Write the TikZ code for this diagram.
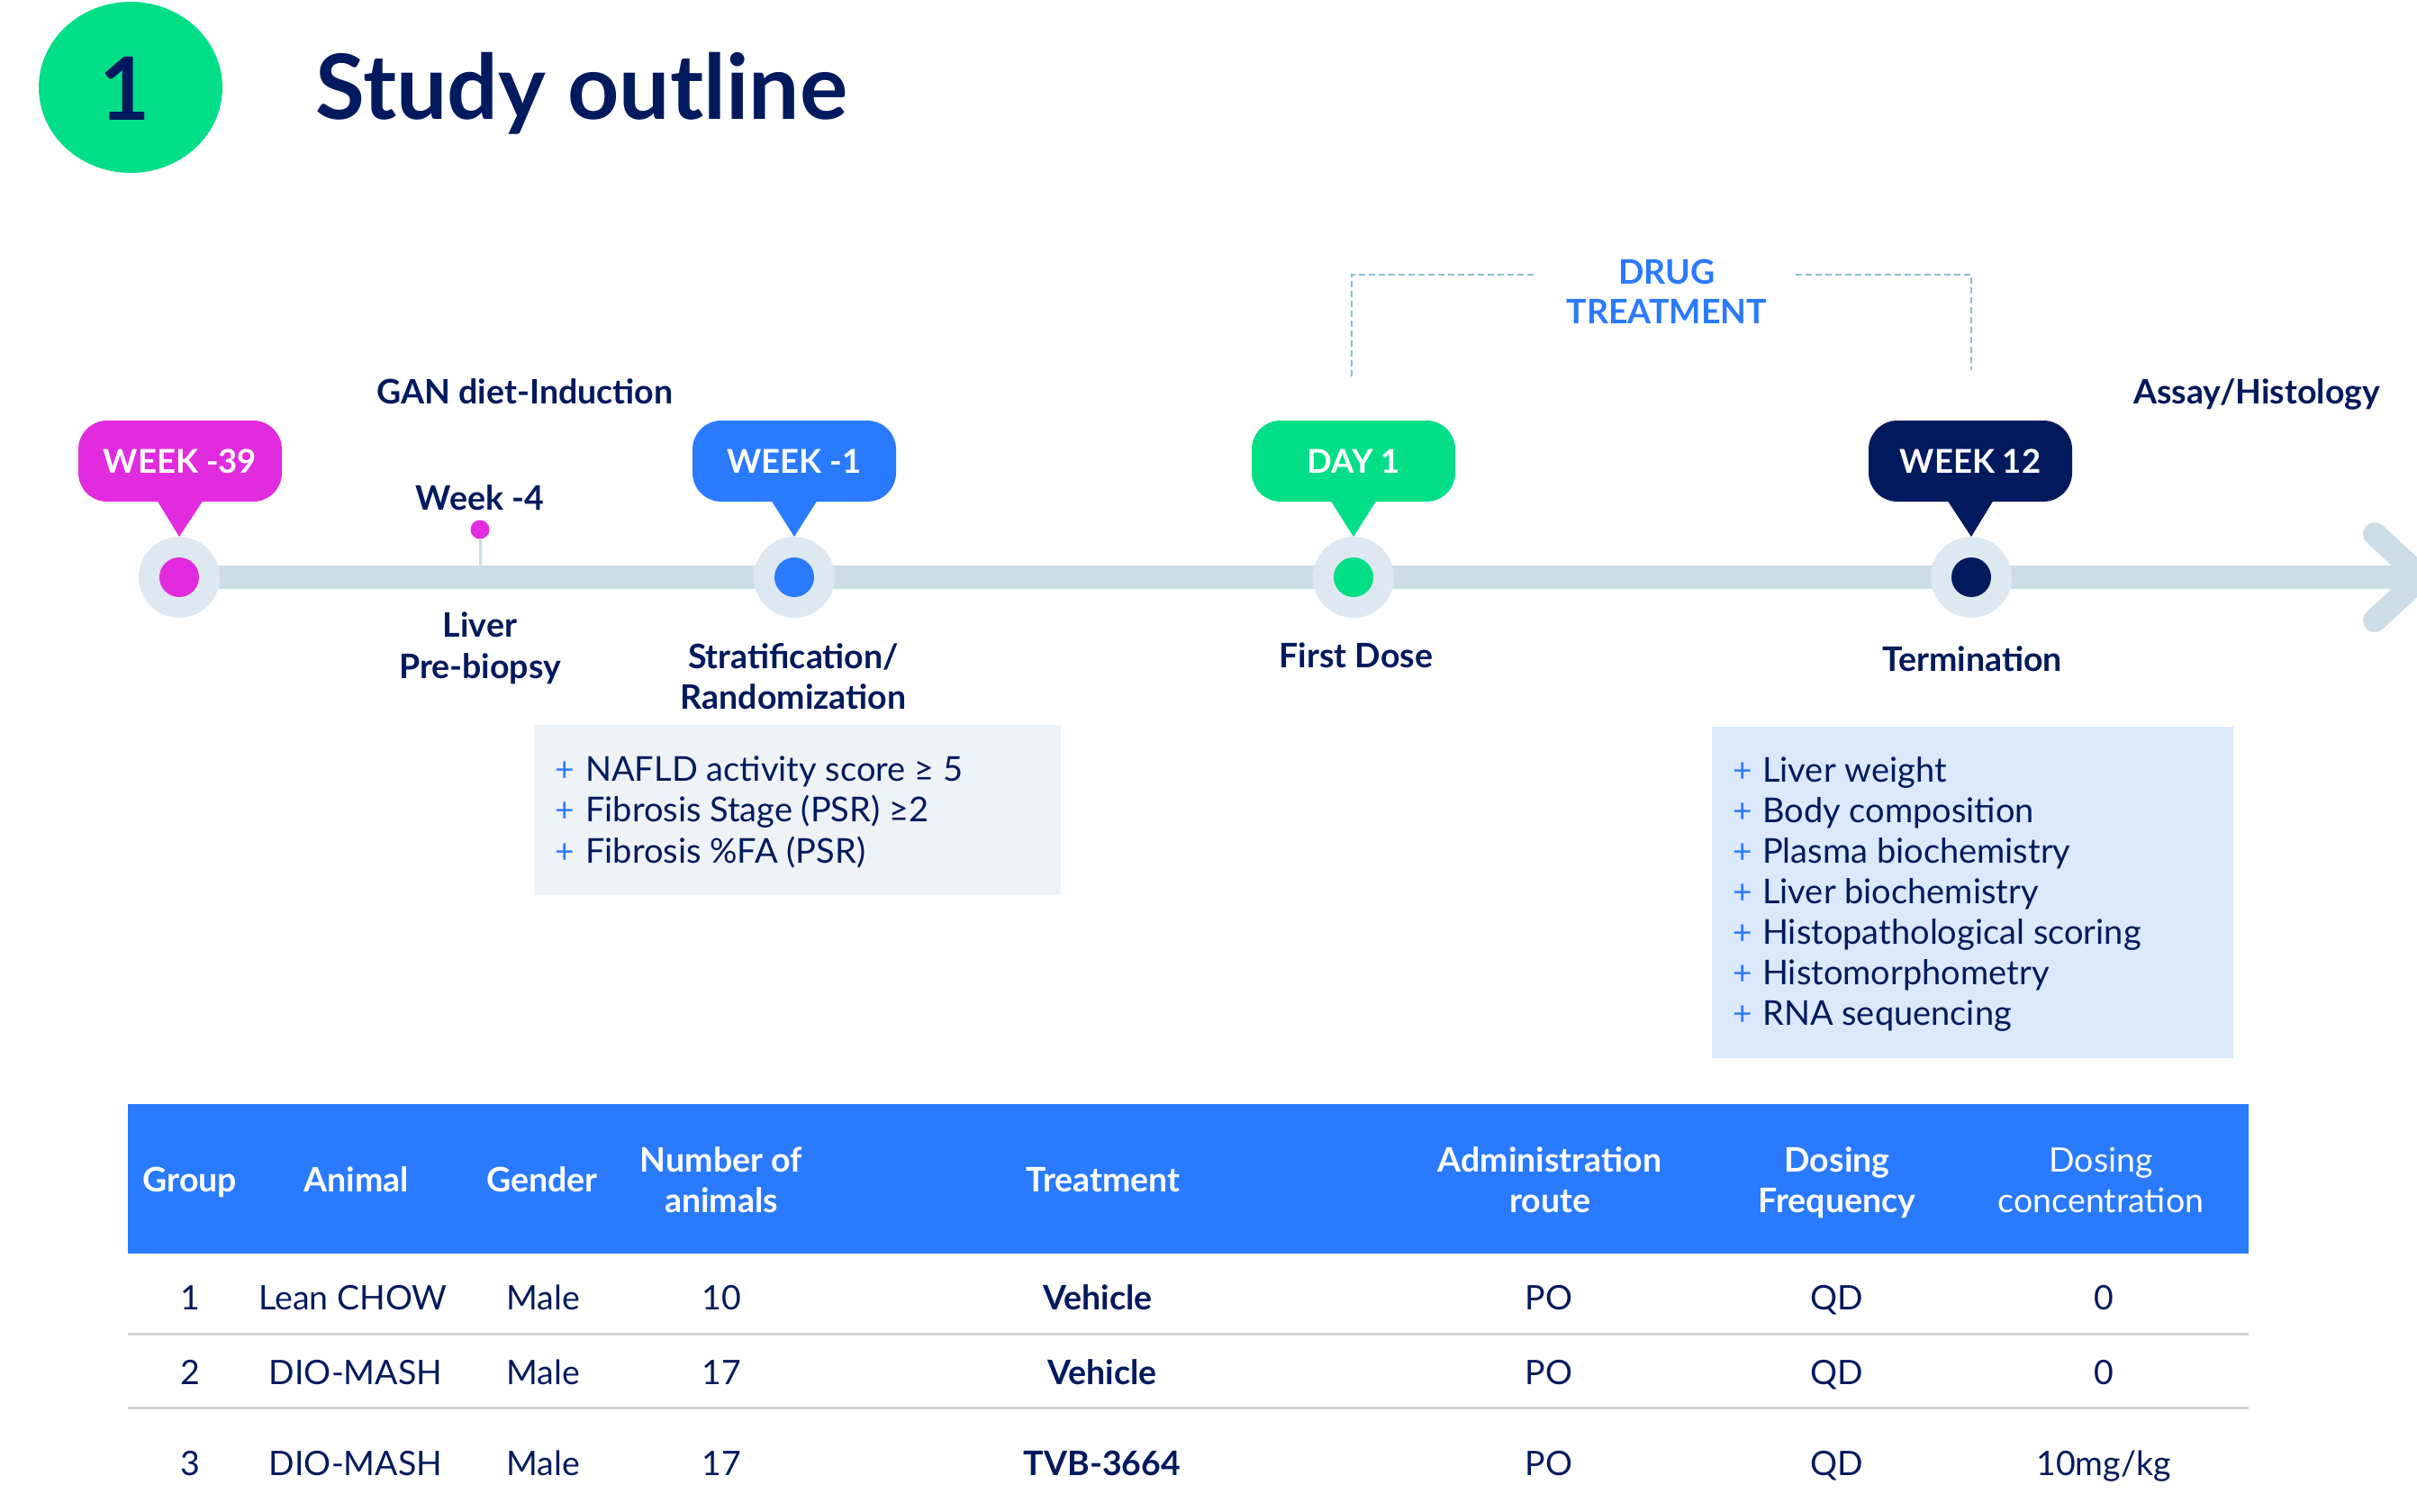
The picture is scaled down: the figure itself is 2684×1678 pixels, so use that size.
\documentclass[tikz,border=0pt]{standalone}
\usepackage{fontspec}
\setmainfont{Lato}
\usetikzlibrary{calc,shapes.geometric}
\definecolor{navy}{HTML}{011A5E}
\definecolor{mgreen}{HTML}{03DF87}
\definecolor{mmag}{HTML}{E22BDF}
\definecolor{mblue}{HTML}{2A7AFE}
\definecolor{barc}{HTML}{CDDDE7}
\definecolor{ringc}{HTML}{DEE8F0}
\definecolor{boxa}{HTML}{EEF3F8}
\definecolor{boxb}{HTML}{DCE8FC}
\definecolor{dashc}{HTML}{8CBFC9}
\definecolor{rulec}{HTML}{D2D2D2}
\begin{document}
\begin{tikzpicture}[x=1pt,y=-1pt,
  lbl/.style={font=\fontsize{37.5}{44}\selectfont\bfseries, text=navy, inner sep=0, anchor=base},
  ring/.style={circle, fill=ringc, minimum size=90, inner sep=0, outer sep=0},
  dot/.style={circle, minimum size=44, inner sep=0, outer sep=0},
  bubble/.style={rounded corners=32, minimum width=226, minimum height=90, inner sep=0, outer sep=0, text=white, font=\fontsize{36.5}{42}\selectfont\bfseries},
  plus/.style={font=\fontsize{37}{44}\selectfont, text=mblue, inner sep=0, anchor=base},
  item/.style={font=\fontsize{38}{44}\selectfont, text=navy, inner sep=0, anchor=base west},
  hd/.style={font=\fontsize{37.5}{44}\selectfont\bfseries, text=white, inner sep=0, anchor=base},
  hdr/.style={font=\fontsize{37.5}{44}\selectfont, text=white, inner sep=0, anchor=base},
  cell/.style={font=\fontsize{37.5}{44}\selectfont, text=navy, inner sep=0, anchor=base},
  cellb/.style={font=\fontsize{37.5}{44}\selectfont\bfseries, text=navy, inner sep=0, anchor=base},
  dashline/.style={dashc, line width=2.5, dash pattern=on 7pt off 4pt}
]
\useasboundingbox (0,0) rectangle (2684,1678);

% badge and title
\node[ellipse, fill=mgreen, minimum width=204, minimum height=190, inner sep=0] (badge) at (145,97) {};
\node[font=\fontsize{97}{110}\selectfont\bfseries, text=navy, inner sep=0] (badgenum) at (139,98) {1};
\node[anchor=base west, inner sep=0, font=\fontsize{100}{120}\selectfont\bfseries, text=navy] (title) at (350,132) {Study outline};

% timeline bar
\coordinate (c1) at (199,641);
\coordinate (c2) at (882,641);
\coordinate (c3) at (1503,641);
\coordinate (c4) at (2189,641);
\coordinate (tipc) at (2689,641);
\coordinate (armtop) at (2637,593);
\coordinate (armbot) at (2637,689);
\draw[barc, line width=26] (c1) -- (tipc);
\draw[barc, line width=26, line cap=round, line join=miter] (armtop) -- (tipc) -- (armbot);

% week -4 marker
\coordinate (w4base) at (533,630);
\node[circle, fill=mmag, minimum size=21, inner sep=0] (w4dot) at (533,588) {};
\draw[barc, line width=3] (w4dot) -- (w4base);

% rings
\node[ring] (ring1) at (c1) {};
\node[ring] (ring2) at (c2) {};
\node[ring] (ring3) at (c3) {};
\node[ring] (ring4) at (c4) {};
\node[dot, fill=mmag] (dot1) at (c1) {};
\node[dot, fill=mblue] (dot2) at (c2) {};
\node[dot, fill=mgreen] (dot3) at (c3) {};
\node[dot, fill=navy] (dot4) at (c4) {};

% bubbles
\node[bubble, fill=mmag] (b1) at (200,512) {WEEK -39};
\node[bubble, fill=mblue] (b2) at (882,512) {WEEK -1};
\node[bubble, fill=mgreen] (b3) at (1503,512) {DAY 1};
\node[bubble, fill=navy] (b4) at (2188,512) {WEEK 12};
\fill[mmag] ($(b1.south)+(-26,-2)$) -- (ring1.north) -- ($(b1.south)+(26,-2)$) -- cycle;
\fill[mblue] ($(b2.south)+(-26,-2)$) -- (ring2.north) -- ($(b2.south)+(26,-2)$) -- cycle;
\fill[mgreen] ($(b3.south)+(-26,-2)$) -- (ring3.north) -- ($(b3.south)+(26,-2)$) -- cycle;
\fill[navy] ($(b4.south)+(-26,-2)$) -- (ring4.north) -- ($(b4.south)+(26,-2)$) -- cycle;

% labels
\node[lbl] (gan) at (583,448) {GAN diet-Induction};
\node[lbl] (assay) at (2506,448) {Assay/Histology};
\node[lbl] (wk4) at (533,566) {Week -4};
\node[lbl] (liver1) at (533,707) {Liver};
\node[lbl] (liver2) at (533,753) {Pre-biopsy};
\node[lbl] (strat1) at (881,742) {Stratification/};
\node[lbl] (strat2) at (881,787) {Randomization};
\node[lbl] (first) at (1506,741) {First Dose};
\node[lbl] (term) at (2190,745) {Termination};
\node[lbl, text=mblue] (drug1) at (1851,315) {DRUG};
\node[lbl, text=mblue] (drug2) at (1851,359) {TREATMENT};

% drug treatment bracket
\coordinate (bl) at (1501,418);
\coordinate (blt) at (1707,305);
\coordinate (brt) at (1994,305);
\coordinate (br) at (2189,411);
\draw[dashline] (bl) |- (blt);
\draw[dashline] (brt) -| (br);

% box 1
\node[fill=boxa, minimum width=585, minimum height=189, inner sep=0, anchor=north west] (boxone) at (593,805) {};
\node[plus] (pa1) at (627,867) {+};
\node[item] (ia1) at (650,867) {NAFLD activity score ≥ 5};
\node[plus] (pa2) at (627,912) {+};
\node[item] (ia2) at (650,912) {Fibrosis Stage (PSR) ≥2};
\node[plus] (pa3) at (627,958) {+};
\node[item] (ia3) at (650,958) {Fibrosis \%FA (PSR)};

% box 2
\node[fill=boxb, minimum width=579, minimum height=368, inner sep=0, anchor=north west] (boxtwo) at (1901,807) {};
\foreach \t [count=\i] in {Liver weight, Body composition, Plasma biochemistry, Liver biochemistry, Histopathological scoring, Histomorphometry, RNA sequencing}{
  \node[plus] (pb\i) at (1935,{823+45*\i}) {+};
  \node[item] (ib\i) at (1957,{823+45*\i}) {\t};
}

% table header
\node[fill=mblue, minimum width=2355, minimum height=166, inner sep=0, anchor=north west] (hdrband) at (142,1226) {};
\node[hd] (h1) at (211,1323) {Group};
\node[hd] (h2) at (396,1323) {Animal};
\node[hd] (h3) at (602,1323) {Gender};
\node[hd] (h4a) at (801,1301) {Number of};
\node[hd] (h4b) at (801,1346) {animals};
\node[hd] (h5) at (1225,1323) {Treatment};
\node[hd] (h6a) at (1721,1301) {Administration};
\node[hd] (h6b) at (1721,1346) {route};
\node[hd] (h7a) at (2040,1301) {Dosing};
\node[hd] (h7b) at (2040,1346) {Frequency};
\node[hdr] (h8a) at (2333,1301) {Dosing};
\node[hdr] (h8b) at (2333,1346) {concentration};

% rules
\draw[rulec, line width=3] (142,1481) -- (2497,1481);
\draw[rulec, line width=3] (142,1563) -- (2497,1563);

% row 1
\node[cell] (r1c1) at (211,1454) {1};
\node[cell] (r1c2) at (392,1454) {Lean CHOW};
\node[cell] (r1c3) at (603,1454) {Male};
\node[cell] (r1c4) at (801,1454) {10};
\node[cellb] (r1c5) at (1219,1454) {Vehicle};
\node[cell] (r1c6) at (1720,1454) {PO};
\node[cell] (r1c7) at (2040,1454) {QD};
\node[cell] (r1c8) at (2336,1454) {0};
% row 2
\node[cell] (r2c1) at (211,1537) {2};
\node[cell] (r2c2) at (395,1537) {DIO-MASH};
\node[cell] (r2c3) at (603,1537) {Male};
\node[cell] (r2c4) at (801,1537) {17};
\node[cellb] (r2c5) at (1224,1537) {Vehicle};
\node[cell] (r2c6) at (1720,1537) {PO};
\node[cell] (r2c7) at (2040,1537) {QD};
\node[cell] (r2c8) at (2336,1537) {0};
% row 3
\node[cell] (r3c1) at (211,1638) {3};
\node[cell] (r3c2) at (395,1638) {DIO-MASH};
\node[cell] (r3c3) at (603,1638) {Male};
\node[cell] (r3c4) at (801,1638) {17};
\node[cellb] (r3c5) at (1224,1638) {TVB-3664};
\node[cell] (r3c6) at (1720,1638) {PO};
\node[cell] (r3c7) at (2040,1638) {QD};
\node[cell] (r3c8) at (2336,1638) {10mg/kg};
\end{tikzpicture}
\end{document}
